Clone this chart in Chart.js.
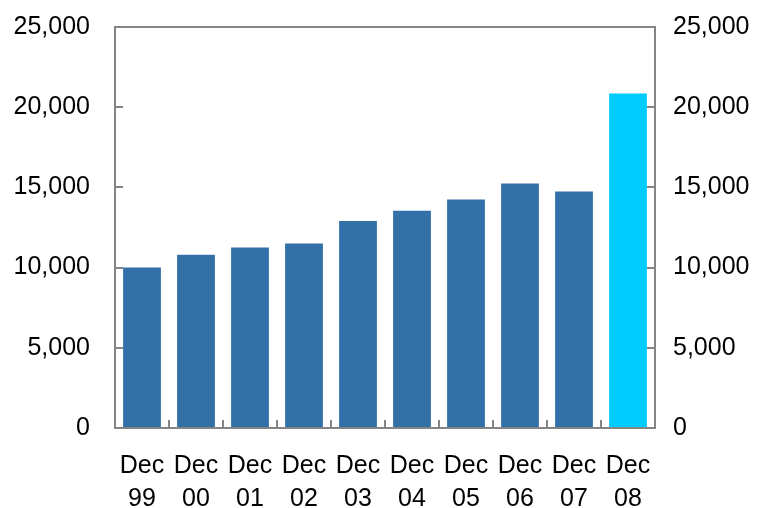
<!DOCTYPE html>
<html>
<head>
<meta charset="utf-8">
<script src="https://cdn.jsdelivr.net/npm/chart.js@4"></script>
<style>
  html, body { margin: 0; padding: 0; background: #fff; }
  #wrap { width: 757px; height: 508px; }
</style>
</head>
<body>
<div id="wrap"><canvas id="c" width="757" height="508"></canvas></div>
<script>
// Year-end values
const categories = [['Dec', '99'], ['Dec', '00'], ['Dec', '01'], ['Dec', '02'], ['Dec', '03'],
                    ['Dec', '04'], ['Dec', '05'], ['Dec', '06'], ['Dec', '07'], ['Dec', '08']];
const values = [10000, 10800, 11250, 11500, 12900, 13550, 14250, 15250, 14750, 20850];
const barColors = ['#3470a8', '#3470a8', '#3470a8', '#3470a8', '#3470a8',
                   '#3470a8', '#3470a8', '#3470a8', '#3470a8', '#00ccff'];
const yTicks = [0, 5000, 10000, 15000, 20000, 25000];

const AXIS = '#858585';
const FONT = { family: 'Liberation Sans, Arial, sans-serif', size: 25 };
const XFONT = { family: 'Liberation Sans, Arial, sans-serif', size: 25, lineHeight: 1.32 };

// Frame around the plot plus short inward tick marks
const framePlugin = {
  id: 'frame',
  afterDraw(chart) {
    const { ctx, chartArea: a, scales } = chart;
    ctx.save();
    ctx.strokeStyle = AXIS;
    ctx.lineWidth = 2;
    ctx.strokeRect(a.left, a.top, a.right - a.left, a.bottom - a.top);
    ctx.beginPath();
    yTicks.forEach(v => {
      const y = Math.round(scales.y.getPixelForValue(v));
      ctx.moveTo(a.left, y); ctx.lineTo(a.left + 8, y);
      ctx.moveTo(a.right, y); ctx.lineTo(a.right - 8, y);
    });
    const x = scales.x;
    for (let i = 1; i < categories.length; i++) {
      const px = Math.round((x.getPixelForValue(i - 1) + x.getPixelForValue(i)) / 2);
      ctx.moveTo(px, a.bottom); ctx.lineTo(px, a.bottom - 8);
    }
    ctx.stroke();
    ctx.restore();
  }
};

const fmt = v => v.toLocaleString('en-US');

// Vertical axes keep a fixed width and claim no extra room above/below the plot
const fitY = w => s => { s.width = w; s.paddingTop = 0; s.paddingBottom = 0; };

new Chart(document.getElementById('c'), {
  type: 'bar',
  data: {
    labels: categories,
    datasets: [{
      data: values,
      backgroundColor: barColors,
      borderWidth: 0,
      categoryPercentage: 1,
      barPercentage: 0.7,
      yAxisID: 'y'
    }]
  },
  options: {
    responsive: false,
    animation: false,
    layout: { padding: { top: 27, left: 0, right: 0, bottom: 0 } },
    plugins: { legend: { display: false }, tooltip: { enabled: false } },
    scales: {
      x: {
        grid: { display: false, drawTicks: false },
        border: { display: false },
        ticks: { color: '#000', font: XFONT, padding: 22, maxRotation: 0, autoSkip: false },
        afterFit(s) { s.height = 80; s.paddingLeft = 0; s.paddingRight = 0; }
      },
      y: {
        position: 'left',
        min: 0, max: 25000,
        afterBuildTicks(s) { s.ticks = yTicks.map(v => ({ value: v })); },
        grid: { display: false, drawTicks: false },
        border: { display: false },
        ticks: { color: '#000', font: FONT, padding: 25, callback: fmt },
        afterFit: fitY(115)
      },
      y2: {
        position: 'right',
        min: 0, max: 25000,
        afterBuildTicks(s) { s.ticks = yTicks.map(v => ({ value: v })); },
        grid: { display: false, drawTicks: false },
        border: { display: false },
        ticks: { color: '#000', font: FONT, padding: 18, callback: fmt },
        afterFit: fitY(102)
      }
    }
  },
  plugins: [framePlugin]
});
</script>
</body>
</html>
